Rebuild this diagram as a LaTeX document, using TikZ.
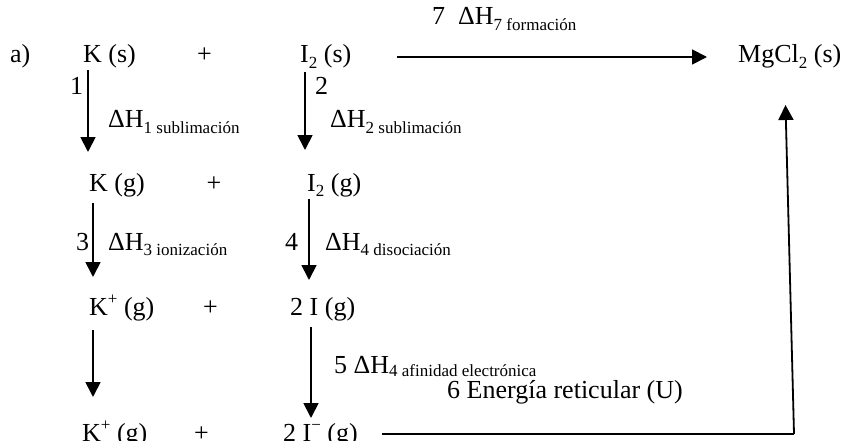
\documentclass[tikz,border=0pt]{standalone}
\usepackage{fontspec}
\setmainfont{Liberation Serif}
\usetikzlibrary{arrows.meta}
\newcommand{\sbs}[1]{\raisebox{-0.22em}{\fontsize{17}{20}\selectfont #1}}
\newcommand{\sbt}[1]{\raisebox{-0.12em}{\fontsize{17}{20}\selectfont #1}}
\newcommand{\sps}[1]{\raisebox{0.42em}{\fontsize{17}{20}\selectfont #1}}
\begin{document}
\begin{tikzpicture}[x=1pt,y=-1pt,
  txt/.style={anchor=base west, inner sep=0pt, font=\fontsize{26}{30}\selectfont},
  plus/.style={anchor=base, inner sep=0pt, font=\fontsize{26}{30}\selectfont},
  arr/.style={line width=1.8pt, -{Triangle[length=15pt,width=15pt]}},
  ln/.style={line width=1.8pt}]
\useasboundingbox (0,0) rectangle (845,441);
\clip (0,0) rectangle (845,441);
% row 1
\node[txt] (lbla) at (10,63) {a)};
\node[txt] (Ks) at (83,63) {K (s)};
\node[plus] (p1) at (204.5,63) {+};
\node[txt] (I2s) at (300,63) {I\sbs{2} (s)};
\node[txt] (MgCl) at (738,63) {MgCl\sbs{2} (s)};
\node[txt] (l7) at (432,25) {7\ \ ΔH\sbs{7 formación}};
% step 1,2 labels
\node[txt] (n1) at (70,95) {1};
\node[txt] (h1) at (108,128) {ΔH\sbs{1 sublimación}};
\node[txt] (n2) at (315,95) {2};
\node[txt] (h2) at (330,128) {ΔH\sbs{2 sublimación}};
% row 2
\node[txt] (Kg) at (89,191) {K (g)};
\node[plus] (p2) at (214,191) {+};
\node[txt] (I2g) at (307,191) {I\sbs{2} (g)};
\node[txt] (n3) at (76,250) {3};
\node[txt] (h3) at (108,250) {ΔH\sbs{3 ionización}};
\node[txt] (n4) at (285,250) {4};
\node[txt] (h4) at (325,250) {ΔH\sbs{4 disociación}};
% row 3
\node[txt] (Kpg) at (89,315) {K\sps{+} (g)};
\node[plus] (p3) at (210.5,315) {+};
\node[txt] (Ig) at (290,315) {2 I (g)};
\node[txt] (h5) at (334,373) {5 ΔH\sbt{4 afinidad electrónica}};
\node[txt] (h6) at (447,398) {6 Energía reticular (U)};
% row 4
\node[txt] (Kpg2) at (82,441) {K\sps{+} (g)};
\node[plus] (p4) at (201.5,441) {+};
\node[txt] (Img) at (283,441) {2 I\sps{−} (g)};
% connector end points
\coordinate (a1s) at (88,70);   \coordinate (a1e) at (88,152);
\coordinate (a2s) at (305,72);  \coordinate (a2e) at (305,150);
\coordinate (a3s) at (93,203);  \coordinate (a3e) at (93,277);
\coordinate (a4s) at (309,199); \coordinate (a4e) at (309,280);
\coordinate (aks) at (93,330);  \coordinate (ake) at (93,397);
\coordinate (a5s) at (311,327); \coordinate (a5e) at (311,418);
\coordinate (a7s) at (397,57);  \coordinate (a7e) at (707,57);
\coordinate (u0) at (382,434);  \coordinate (u1) at (794,434);
\coordinate (u2) at (785.5,105);
% connectors
\draw[arr] (a1s) -- (a1e);
\draw[arr] (a2s) -- (a2e);
\draw[arr] (a3s) -- (a3e);
\draw[arr] (a4s) -- (a4e);
\draw[arr] (aks) -- (ake);
\draw[arr] (a5s) -- (a5e);
\draw[arr] (a7s) -- (a7e);
\draw[ln] (u0) -- (u1);
\draw[arr] (u1) -- (u2);
\end{tikzpicture}
\end{document}
